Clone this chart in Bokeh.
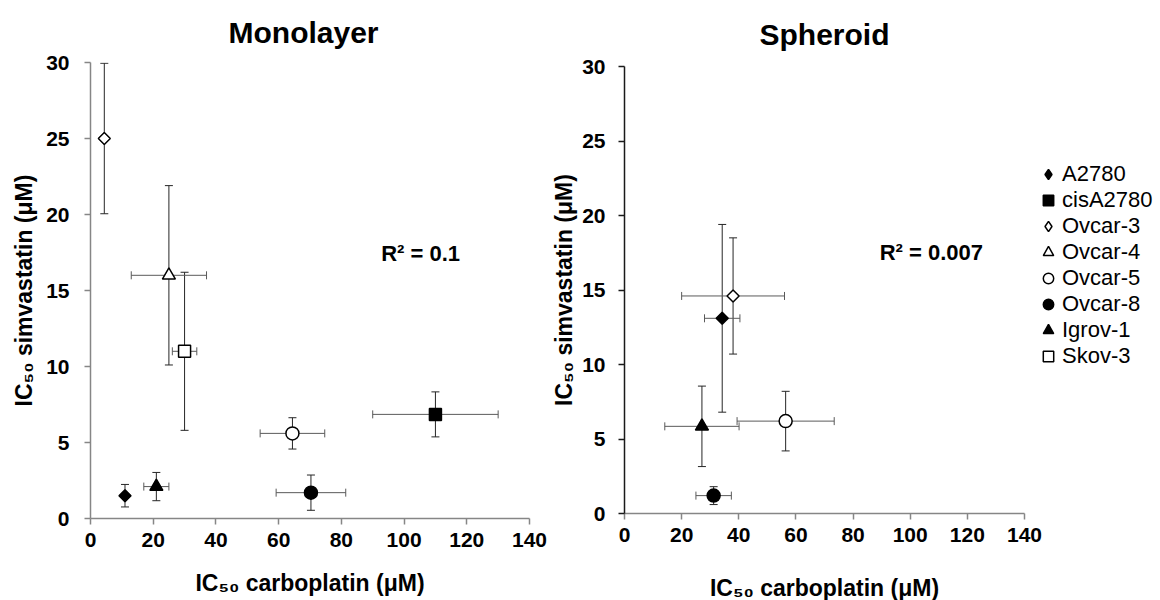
import numpy as np
from bokeh.plotting import figure
from bokeh.models import (Range1d, FixedTicker, Whisker, TeeHead, ColumnDataSource,
                          Label, Legend, LegendItem)
from bokeh.layouts import row, column
from bokeh.embed import file_html
from bokeh.resources import INLINE

# ---------------- data ----------------
legend_order = ["A2780", "cisA2780", "Ovcar-3", "Ovcar-4", "Ovcar-5", "Ovcar-8", "Igrov-1", "Skov-3"]

mono_lines = ["A2780", "cisA2780", "Ovcar-3", "Ovcar-4", "Ovcar-5", "Ovcar-8", "Igrov-1", "Skov-3"]
mono_x = [11.0, 110.0, 4.4, 25.0, 64.4, 70.3, 21.0, 30.0]
mono_xerr = [0.0, 20.0, 0.0, 12.0, 10.3, 11.1, 4.0, 3.9]
mono_y = [1.5, 6.85, 25.0, 16.0, 5.6, 1.7, 2.1, 11.0]
mono_yerr = [0.74, 1.48, 4.95, 5.9, 1.03, 1.16, 0.93, 5.2]
mono_r2 = "R² = 0.1"

sph_lines = ["A2780", "Ovcar-3", "Ovcar-5", "Ovcar-8", "Igrov-1"]
sph_x = [34.2, 38.0, 56.4, 31.2, 27.1]
sph_xerr = [6.2, 18.0, 17.0, 6.2, 13.0]
sph_y = [13.1, 14.6, 6.2, 1.2, 5.85]
sph_yerr = [6.3, 3.9, 2.0, 0.6, 2.7]
sph_r2 = "R² = 0.007"

x_ticks = [0, 20, 40, 60, 80, 100, 120, 140]
y_ticks = [0, 5, 10, 15, 20, 25, 30]
x_label = "IC₅₀ carboplatin (μM)"
y_label = "IC₅₀ simvastatin (μM)"

# ---------------- styles ----------------
FONT = "Liberation Sans"
STYLE = {
    "A2780":    dict(marker="square", angle=np.pi / 4, size=8.5, fill="black", leg="diamond"),
    "cisA2780": dict(marker="square", angle=0.0, size=12, fill="black", leg="square"),
    "Ovcar-3":  dict(marker="square", angle=np.pi / 4, size=8.5, fill="white", leg="diamond"),
    "Ovcar-4":  dict(marker="triangle", angle=0.0, size=13, fill="white", leg="triangle"),
    "Ovcar-5":  dict(marker="circle", angle=0.0, size=13, fill="white", leg="circle"),
    "Ovcar-8":  dict(marker="circle", angle=0.0, size=13, fill="black", leg="circle"),
    "Igrov-1":  dict(marker="triangle", angle=0.0, size=13, fill="black", leg="triangle"),
    "Skov-3":   dict(marker="square", angle=0.0, size=12, fill="white", leg="square"),
}
XERR_COLOR = "#5a5a5a"
YERR_COLOR = "#262626"


def make_panel(title, lines, xs, xerr, ys, yerr, fw, fh, bl, br, bt, bb,
               xaxis_color, yaxis_color, r2, r2x, r2y, title_standoff, title_align, title_offset,
               ylab_standoff, ytick_standoff, xlab_standoff):
    p = figure(frame_width=fw, frame_height=fh, min_border_left=bl, min_border_right=br,
               min_border_top=bt, min_border_bottom=bb,
               x_range=Range1d(0, 140), y_range=Range1d(0, 30),
               output_backend="svg", toolbar_location=None, title=title)
    p.outline_line_color = None
    p.xgrid.visible = False
    p.ygrid.visible = False
    p.background_fill_color = "white"
    p.border_fill_color = "white"

    p.title.text_font = FONT
    p.title.text_font_size = "30px"
    p.title.text_font_style = "bold"
    p.title.align = title_align
    p.title.vertical_align = "top"
    p.title.text_color = "black"
    p.title.standoff = title_standoff
    p.title.offset = title_offset

    for ax, col, tick in ((p.xaxis[0], xaxis_color, x_ticks), (p.yaxis[0], yaxis_color, y_ticks)):
        ax.ticker = FixedTicker(ticks=tick)
        ax.axis_line_color = col
        ax.axis_line_width = 1.5
        ax.major_tick_line_color = col
        ax.major_tick_line_width = 1.5
        ax.major_tick_out = 6
        ax.major_tick_in = 0
        ax.minor_tick_line_color = None
        ax.major_label_text_font = FONT
        ax.major_label_text_font_size = "21px"
        ax.major_label_text_font_style = "bold"
        ax.major_label_text_color = "black"
        ax.axis_label_text_font = FONT
        ax.axis_label_text_font_size = "23px"
        ax.axis_label_text_font_style = "bold"
        ax.axis_label_text_color = "black"
    p.xaxis[0].major_label_standoff = 8
    p.yaxis[0].major_label_standoff = ytick_standoff
    p.xaxis[0].axis_label = x_label
    p.yaxis[0].axis_label = y_label
    p.xaxis[0].axis_label_standoff = xlab_standoff
    p.yaxis[0].axis_label_standoff = ylab_standoff

    # error bars
    ysrc = ColumnDataSource(dict(x=xs, lo=[y - e for y, e in zip(ys, yerr)],
                                 hi=[y + e for y, e in zip(ys, yerr)]))
    p.add_layout(Whisker(source=ysrc, base="x", lower="lo", upper="hi", dimension="height",
                         line_color=YERR_COLOR, line_width=1,
                         upper_head=TeeHead(size=8, line_color=YERR_COLOR, line_width=1),
                         lower_head=TeeHead(size=8, line_color=YERR_COLOR, line_width=1)))
    xi = [i for i, e in enumerate(xerr) if e > 0]
    xsrc = ColumnDataSource(dict(y=[ys[i] for i in xi],
                                 lo=[xs[i] - xerr[i] for i in xi],
                                 hi=[xs[i] + xerr[i] for i in xi]))
    p.add_layout(Whisker(source=xsrc, base="y", lower="lo", upper="hi", dimension="width",
                         line_color=XERR_COLOR, line_width=1,
                         upper_head=TeeHead(size=8, line_color=XERR_COLOR, line_width=1),
                         lower_head=TeeHead(size=8, line_color=XERR_COLOR, line_width=1)))

    for i, name in enumerate(lines):
        st = STYLE[name]
        p.scatter(x=[xs[i]], y=[ys[i]], marker=st["marker"], size=st["size"], angle=st["angle"],
                  fill_color=st["fill"], line_color="black", line_width=1.5)

    p.add_layout(Label(x=r2x, y=r2y, text=r2, text_font=FONT, text_font_size="22px",
                       text_font_style="bold", text_baseline="middle", text_color="black"))
    return p


p1 = make_panel("Monolayer", mono_lines, mono_x, mono_xerr, mono_y, mono_yerr,
                439, 456, 90, 18, 62, 82, "#868686", "#868686", mono_r2, 92.7, 17.46,
                24, "left", 138, 6, 15, 20)
p2 = make_panel("Spheroid", sph_lines, sph_x, sph_xerr, sph_y, sph_yerr,
                400, 447, 77, 136, 66, 87, "#868686", "#1a1a1a", sph_r2, 89.3, 17.52,
                28, "center", 0, 2, 13, 30)

# legend-only renderers (no visible data points)
items = []
for name in legend_order:
    st = STYLE[name]
    r = p2.scatter(x=[np.nan], y=[np.nan], marker=st["leg"], size=10,
                   fill_color=st["fill"], line_color="black", line_width=1.5)
    items.append(LegendItem(label=name, renderers=[r]))

legend = Legend(items=items, location=(11, 144), glyph_width=26, glyph_height=26,
                label_height=20, label_standoff=1, spacing=0, padding=0, margin=0,
                border_line_color=None, background_fill_alpha=0,
                label_text_font=FONT, label_text_font_size="22px", label_text_color="black")
p2.add_layout(legend, "right")

layout = row(column(p1), column(p2))
open("out.html", "w").write(file_html(layout, INLINE))
